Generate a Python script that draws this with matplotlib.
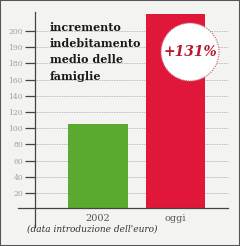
import numpy as np
import matplotlib
matplotlib.use('Agg')
import matplotlib.pyplot as plt
from matplotlib.patches import Circle, Rectangle

categories = ['2002', 'oggi']
values = [100, 231]
bar_colors = ['#5aaa30', '#e1173a']
tick_labels = ['20', '40', '60', '80', '100', '120', '140', '160', '180', '190', '200']
title_lines = ['incremento', 'indebitamento', 'medio delle', 'famiglie']
badge = '+131%'
note = "(data introduzione dell'euro)"

W, H = 240, 246
fig = plt.figure(figsize=(W / 100, H / 100), dpi=100)
fig.patch.set_facecolor('#f3f3f1')

# axes: spine from y=12 to y=227 px, x from 35 to 228 px
ax = fig.add_axes([35 / W, 1 - 227 / H, 193 / W, 215 / H])
ax.set_facecolor('none')
ax.set_xlim(-0.813, 1.677)
ax.set_ylim(-22.6, 233.3)

# fake (evenly spaced) value axis as in the original graphic
ticks = np.linspace(17.9, 210.7, len(tick_labels))
ax.set_yticks(ticks)
ax.set_yticklabels(tick_labels, fontsize=5.5, color='#a0a0a0', family='DejaVu Serif')
ax.tick_params(axis='y', length=7, width=0.9, color='#444444', pad=1.5)
ax.set_xticks([])
for t in ticks:
    ax.axhline(t, color='#a8a8a8', lw=0.6, ls=(0, (1, 1)), zorder=0)

for s in ['top', 'right', 'bottom']:
    ax.spines[s].set_visible(False)
ax.spines['left'].set_color('#444444')
ax.spines['left'].set_linewidth(0.9)

ax.bar(range(len(values)), values, width=0.77, color=bar_colors, zorder=2)
ax.axhline(0, xmin=-(35 - 18) / 193, xmax=1, color='#444444', lw=0.9, clip_on=False, zorder=3)

for i, c in enumerate(categories):
    ax.text(i, -12, c, ha='center', va='center', fontsize=7, color='#555555', family='DejaVu Serif')

for line, t in zip(title_lines, ticks[::-1]):
    ax.text(-0.62, t, line, ha='left', va='baseline', fontsize=8, fontweight='bold',
            color='#1a1a1a', family='DejaVu Serif', zorder=4)

# badge circle
circ = Circle((190 / 100, (H - 52) / 100), 0.29, transform=fig.dpi_scale_trans,
              facecolor='white', edgecolor='#c8707c', lw=0.9, ls=(0, (1, 1)), zorder=5)
fig.patches.append(circ)
fig.text(190 / W, 1 - 52 / H, badge, ha='center', va='center', fontsize=10,
         style='italic', fontweight='bold', color='#b8162e', family='DejaVu Serif', zorder=6)

fig.text(92 / W, 1 - 229 / H, note, ha='center', va='center', fontsize=6.5,
         style='italic', color='#333333', family='DejaVu Serif')

fig.patches.append(Rectangle((0, 0), 1, 1, transform=fig.transFigure, fill=False,
                             edgecolor='#555555', lw=1.5))

fig.savefig('out.png', dpi=100, facecolor=fig.get_facecolor())
